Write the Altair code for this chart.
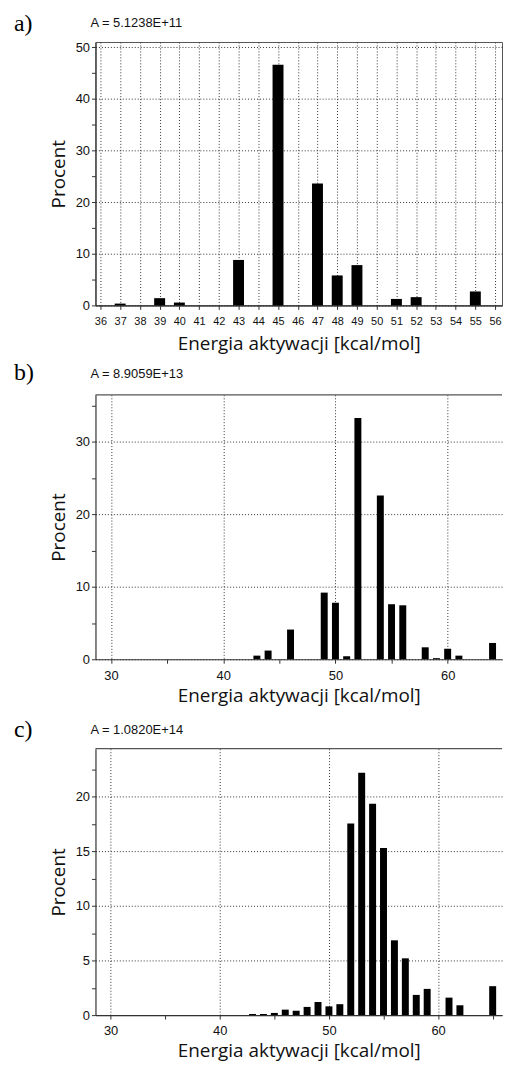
import altair as alt
import pandas as pd

# ---- data ----
panel_labels = ["a)", "b)", "c)"]
freq_factors = ["A = 5.1238E+11", "A = 8.9059E+13", "A = 1.0820E+14"]

a_energy = [37, 39, 40, 43, 45, 47, 48, 49, 51, 52, 55]
a_pct = [0.35, 1.4, 0.55, 8.8, 46.6, 23.6, 5.8, 7.8, 1.25, 1.6, 2.7]

b_energy = [43, 44, 46, 49, 50, 51, 52, 54, 55, 56, 58, 59, 60, 61, 64]
b_pct = [0.5, 1.2, 4.1, 9.2, 7.8, 0.4, 33.3, 22.6, 7.6, 7.45, 1.65, 0.15, 1.45, 0.5, 2.25]

c_energy = [43, 44, 45, 46, 47, 48, 49, 50, 51, 52, 53, 54, 55, 56, 57, 58, 59, 61, 62, 65]
c_pct = [0.1, 0.1, 0.2, 0.5, 0.4, 0.75, 1.2, 0.8, 1.0, 17.55, 22.2, 19.35, 15.3,
         6.85, 5.2, 1.85, 2.4, 1.6, 0.9, 2.65]

# tick positions (major + minor)
a_xticks = [v / 2 for v in range(72, 113)]          # 36, 36.5, ... 56
a_yticks = [0, 5, 10, 15, 20, 25, 30, 35, 40, 45, 50]
b_xticks = [30, 35, 40, 45, 50, 55, 60]
b_yticks = [0, 5, 10, 15, 20, 25, 30, 35]
c_xticks = [30, 35, 40, 45, 50, 55, 60, 65]
c_yticks = [0, 2.5, 5, 7.5, 10, 12.5, 15, 17.5, 20, 22.5]

x_title = "Energia aktywacji [kcal/mol]"
y_title = "Procent"


def cond(major, on, off):
    return {"condition": {"test": f"datum.value % {major} === 0", "value": on}, "value": off}


def panel(energy, pct, label, factor, xdom, ydom, width, height, bar_size,
          xticks, xmajor, yticks, ymajor, xlabel_size, x_title_pad, label_y, factor_y, boxed):
    df = pd.DataFrame({"E": energy, "P": pct})
    xaxis = alt.Axis(
        values=xticks, title=x_title, labelOverlap=False, format="d",
        labelExpr=f"datum.value % {xmajor} === 0 ? datum.label : ''",
        gridOpacity=cond(xmajor, 1, 0), labelFontSize=xlabel_size,
        labelPadding=6, titlePadding=x_title_pad,
    )
    yaxis = alt.Axis(
        values=yticks, title=y_title, labelOverlap=False,
        labelExpr=f"datum.value % {ymajor} === 0 ? datum.label : ''",
        gridOpacity=cond(ymajor, 1, 0), labelFontSize=13,
        labelPadding=2, titlePadding=7,
    )
    bars = alt.Chart(df).mark_bar(size=bar_size, color="black").encode(
        x=alt.X("E:Q", scale=alt.Scale(domain=xdom, nice=False, zero=False), axis=xaxis),
        y=alt.Y("P:Q", scale=alt.Scale(domain=ydom, nice=False), axis=yaxis),
    )
    letter = alt.Chart(pd.DataFrame({"t": [label]})).mark_text(
        font="Liberation Serif", fontSize=24, align="left", baseline="middle", color="black"
    ).encode(text="t:N", x=alt.value(-82), y=alt.value(label_y))
    fac = alt.Chart(pd.DataFrame({"t": [factor]})).mark_text(
        font="Liberation Sans", fontSize=13, align="left", baseline="middle", color="#111"
    ).encode(text="t:N", x=alt.value(-5), y=alt.value(factor_y))
    layers = [bars, letter, fac]
    if not boxed:
        top = alt.Chart(pd.DataFrame({"t": [label]})).mark_rule(color="#555", strokeWidth=1.2).encode(
            x=alt.value(0), x2=alt.value(width), y=alt.value(0)
        )
        layers.append(top)
    out = alt.layer(*layers).properties(width=width, height=height)
    if not boxed:
        out = out.properties(view=alt.ViewBackground(stroke="transparent"))
    return out


pa = panel(a_energy, a_pct, panel_labels[0], freq_factors[0], [36, 56.1], [0, 51], 409, 265, 11,
           a_xticks, 1, a_yticks, 10, 11, 8, -18, -19, True)
pb = panel(b_energy, b_pct, panel_labels[1], freq_factors[1], [29.06, 64.4], [0, 36.5], 409, 266, 7,
           b_xticks, 10, b_yticks, 10, 13, 5, -22, -21, False)
pc = panel(c_energy, c_pct, panel_labels[2], freq_factors[2], [29.07, 65.4], [0, 24.4], 409, 268, 7,
           c_xticks, 10, c_yticks, 5, 13, 4, -19, -19, False)

chart = alt.vconcat(pa, pb, pc, spacing=90, bounds="flush").properties(
    padding={"left": 5, "top": 0, "right": 0, "bottom": 0}
).configure_view(
    stroke="#555", strokeWidth=1
).configure_axis(
    labelFont="Liberation Sans", labelColor="#111",
    tickColor="#333", tickSize=4, domainColor="#333", domainWidth=1.2,
    gridColor="#333", gridDash=[1, 2], gridWidth=1,
    titleFont="Open Sans", titleFontSize=19, titleFontWeight="normal", titleColor="#111",
)

chart.save("out.html", embed_options={"renderer": "svg", "actions": False})
